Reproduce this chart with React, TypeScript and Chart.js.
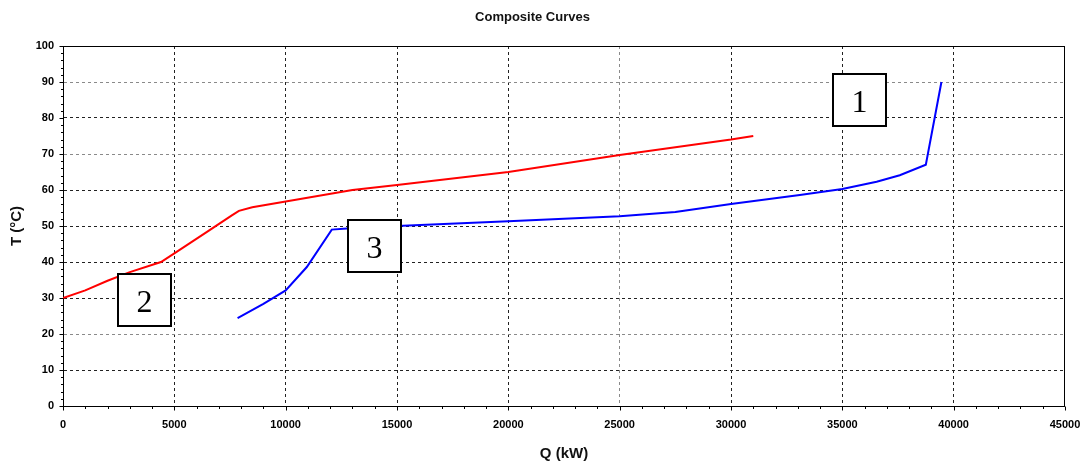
import React, { useEffect, useRef } from "react";
import { Chart, registerables } from "chart.js";

Chart.register(...registerables);

const chartTitle = "Composite Curves";
const xAxisTitle = "Q (kW)";
const yAxisTitle = "T (°C)";

// Hot composite curve (red)
const hotQ = [0, 1000, 2000, 3000, 4400, 5000, 6500, 7600, 7900, 8500, 10000, 13000, 15000, 20000, 25000, 30000, 31000];
const hotT = [30, 32.1, 34.8, 37.2, 40, 42.4, 48.5, 53, 54.2, 55.2, 56.8, 60, 61.4, 65, 69.7, 74, 75];

// Cold composite curve (blue)
const coldQ = [7840, 9000, 10000, 10950, 12070, 12750, 15000, 20000, 25000, 27500, 30000, 33090, 35000, 36540, 37580, 38750, 39450];
const coldT = [24.4, 28.4, 32.1, 38.6, 49, 49.3, 50, 51.3, 52.7, 53.9, 56.1, 58.6, 60.3, 62.3, 64.1, 67, 90];

// Numbered callout boxes (centre in data units)
const calloutText = ["1", "2", "3"];
const calloutQ = [35790, 3640, 14010];
const calloutT = [85, 29.5, 44.5];

// Axis ranges / ticks
const xMin = 0, xMax = 45000, xStep = 5000, xMinorStep = 1000;
const yMin = 0, yMax = 100, yStep = 10, yMinorStep = 2;

const lightGridT = [20, 70, 90];
const lightGridQ = [25000];

const framePlugin = {
  id: "frameAndMinor",
  beforeDatasetsDraw(chart: any) {
    const { ctx, chartArea } = chart;
    ctx.save();
    ctx.strokeStyle = "#000";
    ctx.lineWidth = 1;
    ctx.setLineDash([]);
    ctx.strokeRect(Math.round(chartArea.left) + 0.5, Math.round(chartArea.top) + 0.5,
      Math.round(chartArea.right - chartArea.left) - 1, Math.round(chartArea.bottom - chartArea.top));
    ctx.restore();
  },
  afterDraw(chart: any) {
    const { ctx, chartArea, scales } = chart;
    ctx.save();
    ctx.strokeStyle = "#000";
    ctx.lineWidth = 1;
    const left = Math.round(chartArea.left) + 0.5;
    const bottom = Math.round(chartArea.bottom) + 0.5;
    for (let v = yMin; v <= yMax; v += yMinorStep) {
      const y = Math.round(scales.y.getPixelForValue(v)) + 0.5;
      const len = v % yStep === 0 ? 4 : 2.5;
      ctx.beginPath();
      ctx.moveTo(left - len, y);
      ctx.lineTo(left, y);
      ctx.stroke();
    }
    for (let v = xMin; v <= xMax; v += xMinorStep) {
      const x = Math.round(scales.x.getPixelForValue(v)) + 0.5;
      const len = v % xStep === 0 ? 4 : 2.5;
      ctx.beginPath();
      ctx.moveTo(x, bottom);
      ctx.lineTo(x, bottom + len);
      ctx.stroke();
    }
    ctx.restore();
  },
};

const calloutPlugin = {
  id: "callouts",
  afterDatasetsDraw(chart: any) {
    const { ctx, scales } = chart;
    ctx.save();
    const w = 55, h = 54;
    for (let i = 0; i < calloutText.length; i++) {
      const cx = scales.x.getPixelForValue(calloutQ[i]);
      const cy = scales.y.getPixelForValue(calloutT[i]);
      const x0 = Math.round(cx - w / 2), y0 = Math.round(cy - h / 2);
      ctx.fillStyle = "#fff";
      ctx.fillRect(x0, y0, w, h);
      ctx.strokeStyle = "#000";
      ctx.lineWidth = 2;
      ctx.setLineDash([]);
      ctx.strokeRect(x0 + 1, y0 + 1, w - 2, h - 2);
      ctx.fillStyle = "#000";
      ctx.font = '32px "Liberation Serif", "Times New Roman", serif';
      ctx.textAlign = "center";
      ctx.textBaseline = "alphabetic";
      ctx.fillText(calloutText[i], x0 + w / 2, y0 + h / 2 + 12);
    }
    ctx.restore();
  },
};

export default function App() {
  const ref = useRef<HTMLCanvasElement>(null);

  useEffect(() => {
    document.body.style.margin = "0";
    const canvas = ref.current;
    if (!canvas) return;
    const tickFont = { family: '"Liberation Sans", Arial, sans-serif', size: 11, weight: "bold" as const };
    const titleFont = { family: '"Liberation Sans", Arial, sans-serif', size: 15, weight: "bold" as const };
    const chart = new Chart(canvas, {
      type: "line",
      data: {
        datasets: [
          {
            label: "Hot",
            data: hotQ.map((q, i) => ({ x: q, y: hotT[i] })),
            borderColor: "#ff0000",
            borderWidth: 2,
            pointRadius: 0,
            tension: 0,
            fill: false,
          },
          {
            label: "Cold",
            data: coldQ.map((q, i) => ({ x: q, y: coldT[i] })),
            borderColor: "#0000ff",
            borderWidth: 2,
            pointRadius: 0,
            tension: 0,
            fill: false,
          },
        ],
      },
      options: {
        animation: false,
        responsive: false,
        maintainAspectRatio: false,
        layout: { padding: { left: 0, right: 16, top: 0, bottom: 0 } },
        plugins: {
          legend: { display: false },
          tooltip: { enabled: false },
          title: {
            display: true,
            text: chartTitle,
            color: "#111",
            font: { family: '"Liberation Sans", Arial, sans-serif', size: 13, weight: "bold" },
            padding: { top: 10, bottom: 20.4 },
          },
        },
        scales: {
          x: {
            type: "linear",
            min: xMin,
            max: xMax,
            ticks: {
              stepSize: xStep,
              color: "#000",
              font: tickFont,
              padding: 12,
              maxRotation: 0,
              callback: (v: any) => String(v),
            },
            grid: {
              drawTicks: false,
              color: (c: any) => (lightGridQ.includes(c.tick?.value) ? "#8a8a8a" : "#222"),
              lineWidth: (c: any) => (c.tick?.value === xMin || c.tick?.value === xMax ? 0 : 1),
            },
            border: { display: true, color: "#000", width: 1, dash: [3, 3] },
            title: {
              display: true,
              text: xAxisTitle,
              color: "#111",
              font: titleFont,
              padding: { top: 0, bottom: 3 },
            },
            afterFit: (s: any) => {
              s.height = 60;
              s.paddingLeft = 0;
              s.paddingRight = 0;
            },
          },
          y: {
            type: "linear",
            min: yMin,
            max: yMax,
            ticks: { stepSize: yStep, color: "#000", font: tickFont, padding: 9, callback: (v: any) => String(v) },
            grid: {
              drawTicks: false,
              color: (c: any) => (lightGridT.includes(c.tick?.value) ? "#8a8a8a" : "#222"),
              lineWidth: (c: any) => (c.tick?.value === yMin || c.tick?.value === yMax ? 0 : 1),
            },
            border: { display: true, color: "#000", width: 1, dash: [3, 3] },
            title: {
              display: true,
              text: yAxisTitle,
              color: "#111",
              font: titleFont,
              padding: { top: 8, bottom: 0 },
            },
            afterFit: (s: any) => {
              s.width = 63;
              s.paddingTop = 0;
              s.paddingBottom = 0;
            },
          },
        },
      } as any,
      plugins: [framePlugin, calloutPlugin],
    });
    return () => chart.destroy();
  }, []);

  return (
    <div style={{ width: 1081, height: 466 }}>
      <canvas ref={ref} width={1081} height={466} style={{ display: "block" }} />
    </div>
  );
}
